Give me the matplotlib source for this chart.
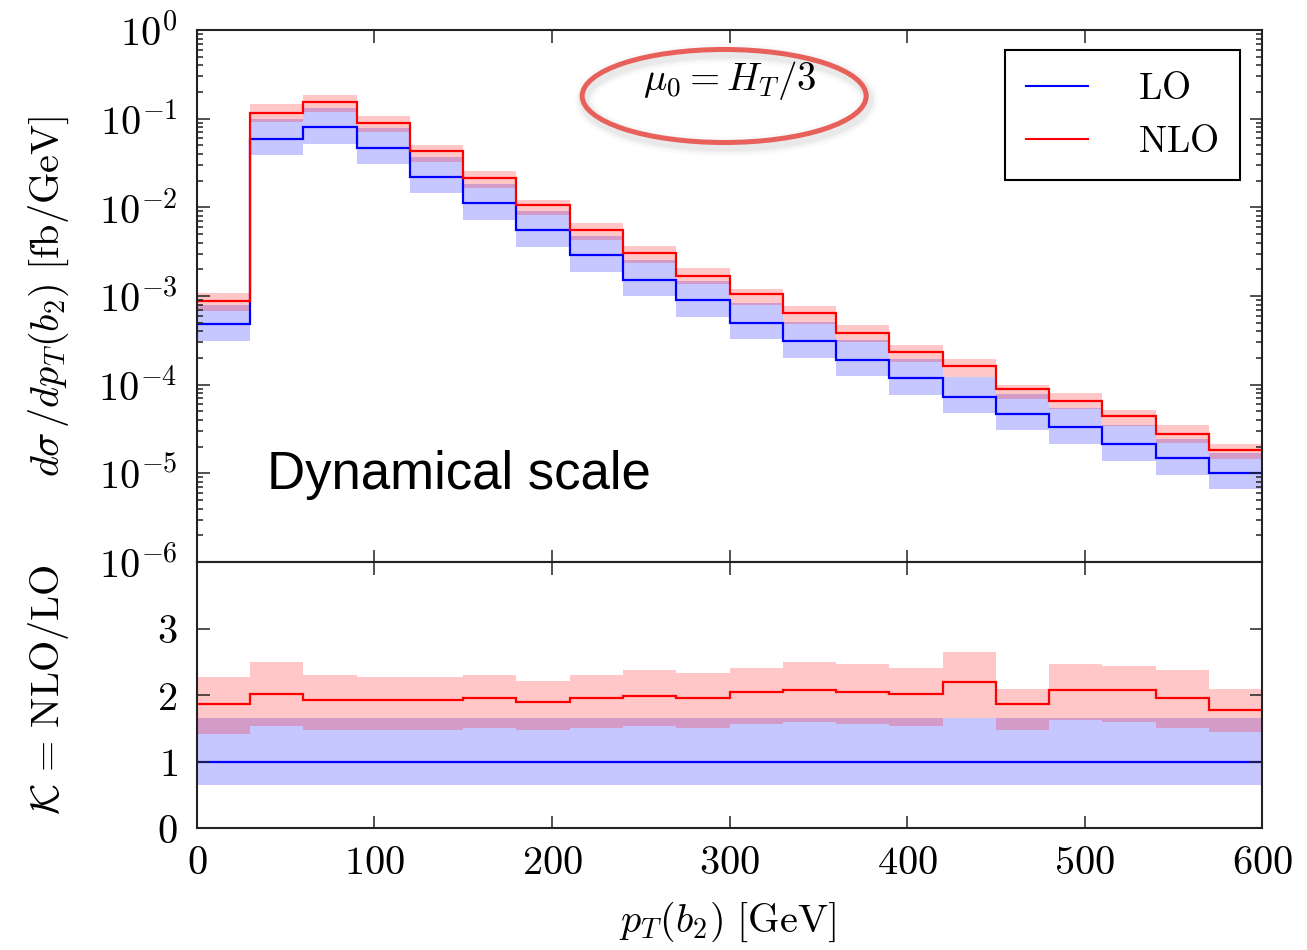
import numpy as np
import matplotlib
matplotlib.use('Agg')
import matplotlib.pyplot as plt
from matplotlib.patches import Ellipse
from matplotlib.ticker import FuncFormatter, LogLocator, MultipleLocator, NullFormatter
from matplotlib.transforms import offset_copy

plt.rcParams['mathtext.fontset'] = 'cm'
plt.rcParams['font.family'] = ['DejaVu Serif']

# bins in pT(b2) [GeV]
edges = np.arange(0, 630, 30)

# top panel: dsigma/dpT [fb/GeV]
lo = [4.8e-4, 0.0594, 0.0805, 0.0473, 0.0222, 0.0111, 0.00553, 0.00288, 0.00153, 9.0e-4,
      5.0e-4, 3.08e-4, 1.92e-4, 1.18e-4, 7.3e-5, 4.73e-5, 3.30e-5, 2.14e-5, 1.48e-5, 1.02e-5]
nlo = [8.9e-4, 0.117, 0.154, 0.090, 0.0427, 0.0213, 0.0106, 0.00553, 0.00304, 0.00170,
       0.00106, 6.47e-4, 3.86e-4, 2.36e-4, 1.63e-4, 9.05e-5, 6.58e-5, 4.46e-5, 2.77e-5, 1.83e-5]

# bottom panel: K = NLO/LO and scale bands (relative to LO central)
k = [1.86, 2.01, 1.92, 1.92, 1.92, 1.96, 1.89, 1.96, 1.99, 1.955,
     2.045, 2.08, 2.045, 2.015, 2.20, 1.86, 2.08, 2.08, 1.96, 1.77]
k_hi = [2.27, 2.49, 2.30, 2.27, 2.27, 2.30, 2.21, 2.30, 2.37, 2.33,
        2.40, 2.49, 2.46, 2.40, 2.65, 2.09, 2.46, 2.43, 2.37, 2.09]
k_lo = [1.42, 1.54, 1.48, 1.48, 1.48, 1.50, 1.48, 1.50, 1.54, 1.51,
        1.57, 1.59, 1.57, 1.54, 1.66, 1.47, 1.63, 1.60, 1.50, 1.44]
r_lo = [0.65] * 20
r_hi = [1.66] * 20

lo = np.array(lo)
nlo = np.array(nlo)
k, k_hi, k_lo = np.array(k), np.array(k_hi), np.array(k_lo)
r_lo, r_hi = np.array(r_lo), np.array(r_hi)

BLUE = '#0000FF'
RED = '#FF0000'
FA = 0.22
FS = 29

fig = plt.figure(figsize=(13.07, 9.5), dpi=100)
ax1 = fig.add_axes([0.1507, 0.4084, 0.8149, 0.5600])
ax2 = fig.add_axes([0.1507, 0.1284, 0.8149, 0.2800])

# ---- top panel
ax1.stairs(lo * r_hi, edges, baseline=lo * r_lo, fill=True, color=BLUE, alpha=FA, lw=0)
ax1.stairs(lo * k_hi, edges, baseline=lo * k_lo, fill=True, color=RED, alpha=FA, lw=0)
ax1.stairs(lo, edges, color=BLUE, lw=1.6, baseline=None, label=r'$\mathrm{LO}$')
ax1.stairs(nlo, edges, color=RED, lw=1.6, baseline=None, label=r'$\mathrm{NLO}$')

ax1.set_yscale('log')
ax1.set_ylim(1e-6, 1)
ax1.set_xlim(0, 600)
ax1.yaxis.set_major_locator(LogLocator(base=10, numticks=20))
ax1.yaxis.set_minor_locator(LogLocator(base=10, subs=np.arange(2, 10), numticks=20))
ax1.yaxis.set_minor_formatter(NullFormatter())
ax1.yaxis.set_major_formatter(FuncFormatter(lambda v, p: r'$10^{%d}$' % int(round(np.log10(v)))))
ax1.xaxis.set_major_locator(MultipleLocator(100))
ax1.tick_params(axis='x', labelbottom=False)
ax1.set_ylabel(r'$d\sigma\,/dp_T(b_2)\ [\mathrm{fb/GeV}]$', fontsize=FS)
ax1.yaxis.set_label_coords(-0.118, 0.5)

leg = ax1.legend(loc='upper right', bbox_to_anchor=(0.979, 0.962), borderaxespad=0,
                 fontsize=27, fancybox=False, edgecolor='black', framealpha=1,
                 handlelength=1.65, handletextpad=1.35, labelspacing=0.45, borderpad=0.55)
leg.get_frame().set_linewidth(1.5)
for line in leg.get_lines():
    line.set_linewidth(1.5)

ax1.text(0.5, 0.906, r'$\mu_0 = H_T/3$', transform=ax1.transAxes, fontsize=28,
         ha='center', va='center')
for lw_s, a_s in [(14, 0.04), (10, 0.06), (7, 0.08)]:
    ax1.add_patch(Ellipse((0.495, 0.876), 0.2667, 0.1748, fill=False, ec='gray', lw=lw_s,
                          alpha=a_s,
                          transform=offset_copy(ax1.transAxes, fig, x=2, y=-4, units='dots')))
ax1.add_patch(Ellipse((0.495, 0.876), 0.2667, 0.1748, fill=False, ec='#E8605A', lw=3.6,
                      transform=ax1.transAxes))

ax1.text(0.0657, 0.1635, 'Dynamical scale', transform=ax1.transAxes, fontsize=38,
         family='Liberation Sans', ha='left', va='center')

# ---- bottom panel
ax2.stairs(r_hi, edges, baseline=r_lo, fill=True, color=BLUE, alpha=FA, lw=0)
ax2.stairs(k_hi, edges, baseline=k_lo, fill=True, color=RED, alpha=FA, lw=0)
ax2.stairs(np.ones_like(lo), edges, color=BLUE, lw=1.6, baseline=None)
ax2.stairs(k, edges, color=RED, lw=1.6, baseline=None)

ax2.set_xlim(0, 600)
ax2.set_ylim(0, 4)
ax2.set_yticks([0, 1, 2, 3])
ax2.xaxis.set_major_locator(MultipleLocator(100))
ax2.xaxis.set_major_formatter(FuncFormatter(lambda v, p: r'$%g$' % v))
ax2.yaxis.set_major_formatter(FuncFormatter(lambda v, p: r'$%g$' % v))
ax2.set_xlabel(r'$p_T(b_2)\ [\mathrm{GeV}]$', fontsize=FS)
ax2.xaxis.set_label_coords(0.498, -0.27)
ax2.set_ylabel(r'$\mathcal{K}\,=\,\mathrm{NLO/LO}$', fontsize=FS)
ax2.yaxis.set_label_coords(-0.118, 0.52)

for ax in (ax1, ax2):
    for s in ax.spines.values():
        s.set_linewidth(1.5)
        s.set_color('#222222')
    ax.tick_params(which='both', direction='in', top=True, right=True, labelsize=FS,
                   width=1.1, color='#222222')
    ax.tick_params(which='major', length=9)
    ax.tick_params(which='minor', length=4.5)
    ax.tick_params(axis='y', pad=14)
    ax.tick_params(axis='x', pad=12)
    ax.set_axisbelow(False)

fig.savefig('out.png', dpi=100)
